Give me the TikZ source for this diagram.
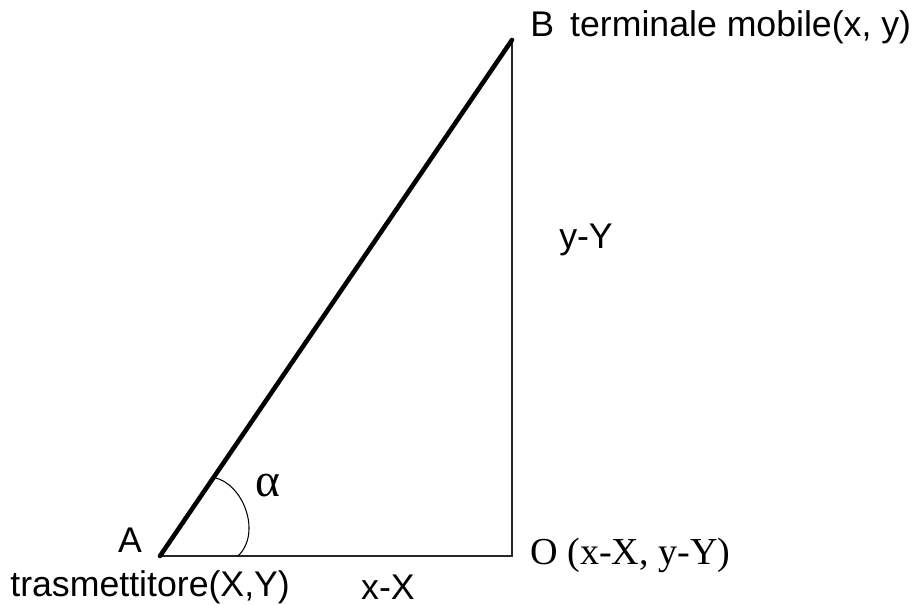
\documentclass[tikz,border=0pt]{standalone}
\usepackage{fontspec}
\setmainfont{Liberation Sans}
\newfontfamily\timesfont{Liberation Serif}
\usetikzlibrary{positioning,calc}

\begin{document}
\begin{tikzpicture}[
  side/.style={line width=1pt, black!85},
  hyp/.style={line width=2.6pt, line cap=round},
  lbl/.style={inner sep=0pt, font=\fontsize{20.3}{24}\selectfont},
  serlbl/.style={inner sep=0pt, font=\timesfont\fontsize{21.7}{26}\selectfont}
]
  \useasboundingbox (0,0) rectangle (18.24,12.1);
  % Vertices
  \coordinate (A) at (3.2, 0.98);
  \coordinate (O) at (10.24, 0.98);
  \coordinate (B) at (10.24, 11.3);
  % Sides
  \draw[side] (A) -- (O) -- (B);
  \draw[hyp] (A) -- (B);
  % Angle alpha
  \coordinate (a1) at ($(A)!1.9cm!(B)$);
  \coordinate (a2) at (4.76, 0.98);
  \draw[line width=0.6pt] (a1) .. controls (4.85,2.45) and (5.25,1.45) .. (a2);
  \node[inner sep=0pt, font=\timesfont\fontsize{27}{30}\selectfont] (alpha) at (5.36, 2.38) {α};
  % Labels
  \node[lbl, anchor=west] (labB) at (10.6, 11.55) {B\hspace{0.45em}terminale mobile(x, y)};
  \node[lbl] (labYY) at (11.72, 7.3) {y-Y};
  \node[lbl] (labA) at (2.6, 1.3) {A};
  \node[lbl, anchor=west] (labT) at (0.2, 0.36) {trasmettitore(X,Y)};
  \node[lbl] (labXX) at (7.76, 0.36) {x-X};
  \node[serlbl, anchor=west] (labO) at (10.6, 1.0) {O (x-X, y-Y)};
\end{tikzpicture}
\end{document}
